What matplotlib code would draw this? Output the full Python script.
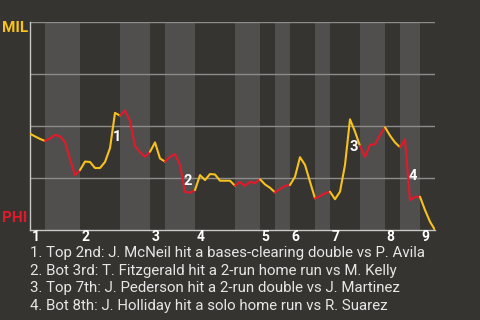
import numpy as np
import matplotlib
matplotlib.use('Agg')
from matplotlib import pyplot as plt

# plate appearances in each half inning (top 1st, bot 1st, ... top 9th)
half_pa = [3, 7, 8, 6, 3, 6, 8, 5, 3, 3, 5, 3, 6, 5, 3, 4, 3]
innings = ['1', '2', '3', '4', '5', '6', '7', '8', '9']

# MIL win probability after each plate appearance
win_prob = [0.463, 0.450, 0.438, 0.428, 0.440, 0.457, 0.450, 0.423, 0.341, 0.264,
            0.288, 0.329, 0.327, 0.298, 0.298, 0.327, 0.394, 0.563, 0.550, 0.574,
            0.524, 0.404, 0.373, 0.352, 0.376, 0.421, 0.344, 0.329, 0.352, 0.365,
            0.313, 0.183, 0.179, 0.192, 0.264, 0.240, 0.269, 0.267, 0.237, 0.237,
            0.237, 0.213, 0.231, 0.212, 0.232, 0.225, 0.244, 0.219, 0.203, 0.181,
            0.197, 0.212, 0.216, 0.256, 0.350, 0.313, 0.232, 0.152, 0.163, 0.176,
            0.184, 0.148, 0.184, 0.313, 0.532, 0.473, 0.404, 0.352, 0.409, 0.412,
            0.457, 0.494, 0.454, 0.421, 0.398, 0.436, 0.144, 0.159, 0.160, 0.096,
            0.040, 0.000]

# key plays: number, x (plate appearance), probability where the label sits
key_num = ['1', '2', '3', '4']
key_x = [17.5, 31.6, 64.7, 76.6]
key_y = [0.447, 0.236, 0.397, 0.260]
notes = ['1. Top 2nd: J. McNeil hit a bases-clearing double vs P. Avila',
         '2. Bot 3rd: T. Fitzgerald hit a 2-run home run vs M. Kelly',
         '3. Top 7th: J. Pederson hit a 2-run double vs J. Martinez',
         '4. Bot 8th: J. Holliday hit a solo home run vs R. Suarez']

bg = '#363430'
band = '#504f4d'
yellow = '#f7c21d'
red = '#e3192b'

plt.rcParams['font.family'] = ['Roboto', 'DejaVu Sans']

fig = plt.figure(figsize=(4.8, 3.2), dpi=100, facecolor=bg)
ax = fig.add_axes([30/480, 90/320, 405/480, 208/320])
ax.set_facecolor(bg)

bounds = np.concatenate([[0], np.cumsum(half_pa)])
total = bounds[-1]
x = np.arange(len(win_prob))
p = np.array(win_prob)

for i in range(len(half_pa)):
    a, b = bounds[i], bounds[i + 1]
    if i % 2 == 1:
        ax.axvspan(a, b, color=band, lw=0, zorder=0)
    col = yellow if i % 2 == 0 else red
    ax.plot(x[a:b + 1], p[a:b + 1], color=col, lw=1.5, zorder=3,
            solid_capstyle='round', solid_joinstyle='round')

for g in [0.25, 0.5, 0.75, 1.0]:
    ax.axhline(g, color='#8c8c8c', lw=1, zorder=1)

ax.set_xlim(0, total)
ax.set_ylim(0, 1)
for s in ['top', 'right']:
    ax.spines[s].set_visible(False)
for s in ['left', 'bottom']:
    ax.spines[s].set_color('#c8c8c8')
    ax.spines[s].set_linewidth(1)
ax.set_xticks([])
ax.set_yticks([])

# inning numbers at start of each inning
for j, lab in enumerate(innings):
    ax.text(bounds[2 * j] + 0.3, -0.035, lab, color='white', fontsize=10,
            fontweight='bold', ha='left', va='center', clip_on=False)

for n, kx, ky in zip(key_num, key_x, key_y):
    ax.text(kx, ky, n, color='white', fontsize=10.5, fontweight='bold',
            ha='center', va='center', zorder=4)

fig.text(2/480, 1 - 27.5/320, 'MIL', color=yellow, fontsize=11, fontweight='bold',
         ha='left', va='center')
fig.text(2/480, 1 - 218/320, 'PHI', color=red, fontsize=11, fontweight='bold',
         ha='left', va='center')

for i, t in enumerate(notes):
    fig.text(30/480, 1 - (253 + i * 17.7)/320, t, color='#e6e6e6', fontsize=10.8,
             ha='left', va='center')

fig.savefig('out.png', dpi=100, facecolor=bg)
